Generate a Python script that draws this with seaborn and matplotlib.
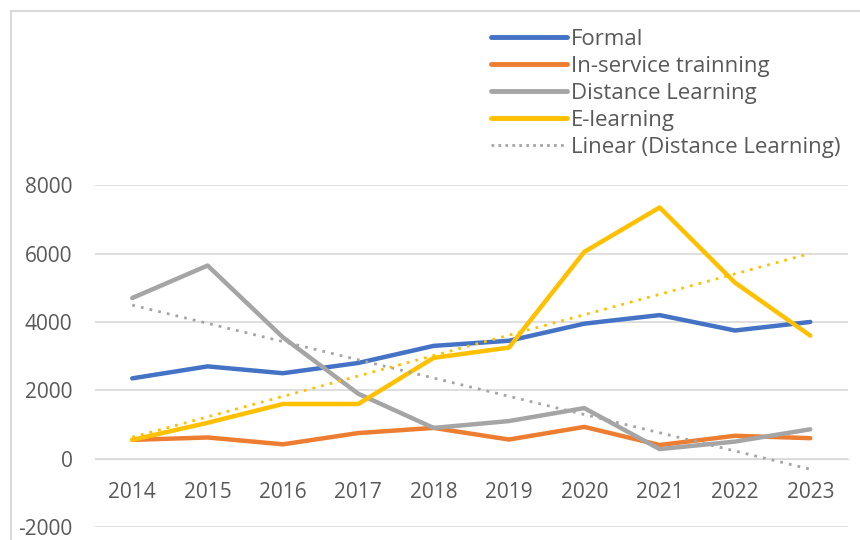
import numpy as np
import pandas as pd
import matplotlib.pyplot as plt
import seaborn as sns
from matplotlib.lines import Line2D

# data
years = [2014, 2015, 2016, 2017, 2018, 2019, 2020, 2021, 2022, 2023]
formal = [2350, 2700, 2500, 2800, 3300, 3450, 3950, 4200, 3750, 4000]
in_service = [550, 620, 420, 750, 900, 560, 930, 400, 670, 600]
distance = [4700, 5650, 3550, 1900, 900, 1100, 1480, 280, 500, 860]
e_learning = [550, 1050, 1600, 1600, 2950, 3250, 6050, 7350, 5150, 3600]

series_names = ['Formal', 'In-service trainning', 'Distance Learning', 'E-learning']
colors = ['#4472C4', '#ED7D31', '#A5A5A5', '#FFC000']

df = pd.DataFrame({'Year': years, 'Formal': formal, 'In-service trainning': in_service,
                   'Distance Learning': distance, 'E-learning': e_learning})
df_melt = df.melt(id_vars='Year', var_name='Series', value_name='Value')

sns.set_style('white')
plt.rcParams['font.family'] = ['Open Sans', 'DejaVu Sans']
plt.rcParams['axes.unicode_minus'] = False

fig = plt.figure(figsize=(8.6, 5.4), dpi=100)
ax = fig.add_axes([0.110, 0.024, 0.876, 0.633])

sns.lineplot(data=df_melt, x='Year', y='Value', hue='Series', hue_order=series_names,
             palette=colors, linewidth=3.2, ax=ax, legend=False, zorder=3)

# linear trendlines
xs = np.array(years, dtype=float)
k, b = np.polyfit(xs, distance, 1)
ax.plot(xs, k * xs + b, color='#A5A5A5', linestyle=(0, (1, 2.2)), linewidth=2, zorder=4)
k2, b2 = np.polyfit(xs, e_learning, 1)
ax.plot(xs, k2 * xs + b2, color='#FFC000', linestyle=(0, (1, 2.2)), linewidth=2, zorder=4)

ax.set_xlim(2013.5, 2023.5)
ax.set_ylim(-2000, 8000)
ax.set_yticks([-2000, 0, 2000, 4000, 6000, 8000])
ax.set_xticks(years)
ax.set_xticklabels([str(y) for y in years])
ax.grid(axis='y', color='#D9D9D9', linewidth=1.2)
ax.grid(axis='x', visible=False)
for s in ['top', 'right', 'left']:
    ax.spines[s].set_visible(False)
ax.spines['bottom'].set_position(('data', 0))
ax.spines['bottom'].set_color('#D9D9D9')
ax.tick_params(axis='x', length=0, pad=17, labelsize=15, labelcolor='#595959')
ax.tick_params(axis='y', length=0, pad=16, labelsize=15, labelcolor='#595959')
ax.set_xlabel('')
ax.set_ylabel('')

handles = [Line2D([0], [0], color=c, linewidth=3.5) for c in colors]
handles.append(Line2D([0], [0], color='#A5A5A5', linestyle=(0, (1, 1.5)), linewidth=2))
labels = series_names + ['Linear (Distance Learning)']
fig.legend(handles, labels, loc='upper left', bbox_to_anchor=(0.561, 0.963),
           frameon=False, fontsize=16, handlelength=3.4, handletextpad=0.2,
           labelspacing=0.27, labelcolor='#595959', borderaxespad=0)

# outer chart border
fig.add_artist(Line2D([11 / 860, 11 / 860], [0, 1 - 11 / 540], transform=fig.transFigure,
                      color='#D9D9D9', linewidth=1.5))
fig.add_artist(Line2D([11 / 860, 1], [1 - 11 / 540, 1 - 11 / 540], transform=fig.transFigure,
                      color='#D9D9D9', linewidth=1.5))

plt.savefig('out.png', dpi=100)
